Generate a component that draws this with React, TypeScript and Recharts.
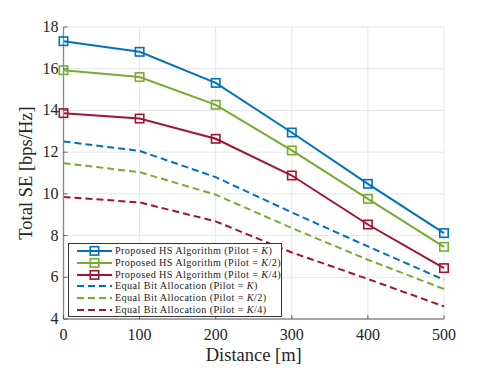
import React from "react";
import {
  LineChart,
  Line,
  XAxis,
  YAxis,
  CartesianGrid,
  Legend,
} from "recharts";

const distances = [0, 100, 200, 300, 400, 500];
const hsPilotK = [17.32, 16.81, 15.32, 12.94, 10.48, 8.12];
const hsPilotK2 = [15.93, 15.6, 14.27, 12.08, 9.76, 7.46];
const hsPilotK4 = [13.87, 13.61, 12.64, 10.88, 8.53, 6.44];
const ebaPilotK = [12.51, 12.06, 10.8, 9.11, 7.48, 5.88];
const ebaPilotK2 = [11.47, 11.04, 9.96, 8.36, 6.84, 5.44];
const ebaPilotK4 = [9.85, 9.59, 8.68, 7.19, 5.92, 4.6];
const xTicks = [0, 100, 200, 300, 400, 500];
const yTicks = [4, 6, 8, 10, 12, 14, 16, 18];

const BLUE = "#0072BD";
const GREEN = "#77AC30";
const RED = "#A2142F";
const FONT = "'Liberation Serif', 'DejaVu Serif', serif";

const series = [
  { key: "hsK", values: hsPilotK, color: BLUE, dashed: false, name: "Proposed HS Algorithm", pilot: "K" },
  { key: "hsK2", values: hsPilotK2, color: GREEN, dashed: false, name: "Proposed HS Algorithm", pilot: "K/2" },
  { key: "hsK4", values: hsPilotK4, color: RED, dashed: false, name: "Proposed HS Algorithm", pilot: "K/4" },
  { key: "ebaK", values: ebaPilotK, color: BLUE, dashed: true, name: "Equal Bit Allocation", pilot: "K" },
  { key: "ebaK2", values: ebaPilotK2, color: GREEN, dashed: true, name: "Equal Bit Allocation", pilot: "K/2" },
  { key: "ebaK4", values: ebaPilotK4, color: RED, dashed: true, name: "Equal Bit Allocation", pilot: "K/4" },
];

const data = distances.map((d, i) => {
  const row: Record<string, number> = { d };
  series.forEach((s) => (row[s.key] = s.values[i]));
  return row;
});

const squareDot = (color: string) => (props: any) => {
  const { cx, cy, index } = props;
  return (
    <rect
      key={index}
      x={cx - 4.2}
      y={cy - 4.2}
      width={8.4}
      height={8.4}
      fill="none"
      stroke={color}
      strokeWidth={1.6}
    />
  );
};

const XTick = (props: any) => {
  const { x, y, payload } = props;
  return (
    <g>
      <line x1={x} x2={x} y1={y} y2={y - 4} stroke="#444" strokeWidth={0.8} />
      <text x={x} y={y + 21} textAnchor="middle" fontFamily={FONT} fontSize={16} fill="#262626">
        {payload.value}
      </text>
    </g>
  );
};

const YTick = (props: any) => {
  const { x, y, payload } = props;
  return (
    <g>
      <line x1={x} x2={x + 4} y1={y} y2={y} stroke="#444" strokeWidth={0.8} />
      <text x={x - 5} y={y + 5} textAnchor="end" fontFamily={FONT} fontSize={16} fill="#262626">
        {payload.value}
      </text>
    </g>
  );
};

const LegendBox = () => (
  <div
    style={{
      boxSizing: "border-box",
      border: "1px solid #333",
      background: "#fff",
      padding: "1px 4px 2px 8px",
      fontFamily: FONT,
      fontSize: 10.2,
      letterSpacing: 0.4,
      color: "#222",
      lineHeight: "11.8px",
      width: 214,
      height: 74,
    }}
  >
    {series.map((s) => (
      <div key={s.key} style={{ display: "flex", alignItems: "center", whiteSpace: "nowrap" }}>
        <svg width={36} height={11.8} style={{ marginRight: 2, flexShrink: 0 }}>
          <line
            x1={0}
            x2={35}
            y1={5.9}
            y2={5.9}
            stroke={s.color}
            strokeWidth={2}
            strokeDasharray={s.dashed ? "7 4" : undefined}
          />
          {!s.dashed && (
            <rect x={13.3} y={1.7} width={8.4} height={8.4} fill="none" stroke={s.color} strokeWidth={1.6} />
          )}
        </svg>
        <span>
          {s.name} (Pilot = <i>{s.pilot.charAt(0)}</i>
          {s.pilot.slice(1)})
        </span>
      </div>
    ))}
  </div>
);

export default function App() {
  return (
    <div style={{ position: "absolute", left: 0, top: 0 }}>
      <LineChart
        width={491}
        height={368}
        data={data}
        margin={{ top: 27, right: 47, bottom: 0, left: 0 }}
      >
        <CartesianGrid stroke="#e6e6e6" strokeWidth={1} />
        <XAxis
          dataKey="d"
          type="number"
          domain={[0, 500]}
          ticks={xTicks}
          height={49}
          tickSize={0}
          tickMargin={0}
          axisLine={{ stroke: "#8c8c8c", strokeWidth: 1.4 }}
          tickLine={false}
          tick={<XTick />}
          label={{
            content: (p: any) => (
              <text
                x={p.viewBox.x + p.viewBox.width / 2}
                y={361}
                textAnchor="middle"
                fontFamily={FONT}
                fontSize={18.5}
                fill="#262626"
              >
                Distance [m]
              </text>
            ),
          }}
        />
        <YAxis
          type="number"
          domain={[4, 18]}
          ticks={yTicks}
          width={63.5}
          tickSize={0}
          tickMargin={0}
          axisLine={{ stroke: "#8c8c8c", strokeWidth: 1.4 }}
          tickLine={false}
          tick={<YTick />}
          label={{
            content: (p: any) => {
              const cy = p.viewBox.y + p.viewBox.height / 2;
              return (
                <text
                  x={32}
                  y={cy}
                  transform={`rotate(-90 32 ${cy})`}
                  textAnchor="middle"
                  fontFamily={FONT}
                  fontSize={18.5}
                  fill="#262626"
                >
                  Total SE [bps/Hz]
                </text>
              );
            },
          }}
        />
        {series.map((s) => (
          <Line
            key={s.key}
            dataKey={s.key}
            stroke={s.color}
            strokeWidth={2}
            strokeDasharray={s.dashed ? "7 4" : undefined}
            dot={s.dashed ? false : squareDot(s.color)}
            activeDot={false}
            isAnimationActive={false}
          />
        ))}
        <Legend
          layout="vertical"
          align="center"
          verticalAlign="middle"
          content={() => <LegendBox />}
          wrapperStyle={{ left: 68, top: 243, width: "auto", height: "auto" }}
        />
      </LineChart>
    </div>
  );
}
